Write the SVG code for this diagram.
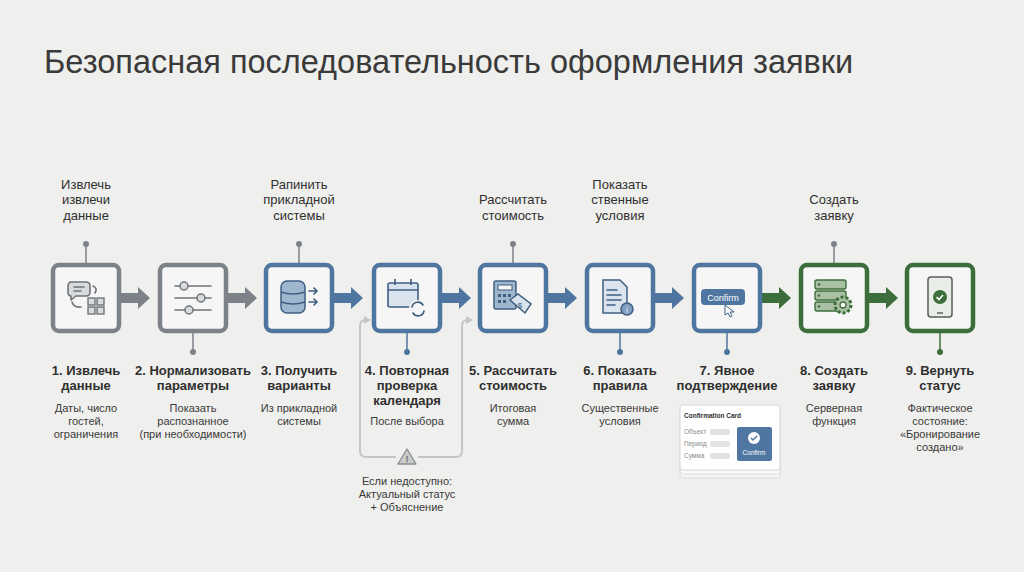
<svg xmlns="http://www.w3.org/2000/svg" width="1024" height="572" viewBox="0 0 1024 572">
<defs>
<style>
text{font-family:"Liberation Sans",Arial,sans-serif;fill:#2f2f2f;text-anchor:middle}
.top{font-size:13px}
.t{font-size:13px;font-weight:bold}
.d{font-size:11px;fill:#3a3a3a}
.lb{font-size:6.5px;fill:#8a8a8a;text-anchor:start}
.box{fill:#f5f6f5;stroke-width:4.5}
.g{stroke:#7d8288}.b{stroke:#4f76a0}.gr{stroke:#3c6e3b}
.stem{stroke-width:1.5;fill:none}
.ic{fill:none;stroke-width:1.6;stroke-linecap:round}
</style>
<marker id="ah" markerWidth="8" markerHeight="8" refX="6" refY="4" orient="auto" markerUnits="userSpaceOnUse"><path d="M0,0L7,4L0,8z" fill="#c4c6c6"/></marker>
</defs>
<rect width="1024" height="572" fill="#efefed"/>
<text x="44" y="73" style="font-size:32.5px;text-anchor:start;fill:#3a3a3a">Безопасная последовательность оформления заявки</text>

<g id="connectors">
<path d="M120,293h18v-6l12,11l-12,11v-6h-18z" fill="#7d8288"/>
<path d="M227,293h18v-6l12,11l-12,11v-6h-18z" fill="#7d8288"/>
<path d="M333,293h18v-6l12,11l-12,11v-6h-18z" fill="#4f76a0"/>
<path d="M441,293h18v-6l12,11l-12,11v-6h-18z" fill="#4f76a0"/>
<path d="M547,293h18v-6l12,11l-12,11v-6h-18z" fill="#4f76a0"/>
<path d="M654,293h18v-6l12,11l-12,11v-6h-18z" fill="#4f76a0"/>
<path d="M761,293h18v-6l12,11l-12,11v-6h-18z" fill="#3c6e3b"/>
<path d="M868,293h18v-6l12,11l-12,11v-6h-18z" fill="#3c6e3b"/>
<path d="M396,457H366q-6,0 -6,-6V326q0,-6 6,-6h4" stroke="#c4c6c6" stroke-width="2" fill="none" marker-end="url(#ah)"/>
<path d="M418,457H456q6,0 6,-6V326q0,-6 6,-6h4" stroke="#c4c6c6" stroke-width="2" fill="none" marker-end="url(#ah)"/>
<path d="M407,449l9,15h-18z" fill="#c9cbcb" stroke="#8a8d90" stroke-width="1.3" stroke-linejoin="round"/>
<text x="407" y="462" style="font-size:9px;font-weight:bold;fill:#6a6d70">!</text>
<g class="stem">
<path d="M86,244v21M299,244v21M513,244v21M834,244v21" class="stem" stroke="#7d8288"/>
<path d="M193,331v21" class="stem" stroke="#7d8288"/>
<path d="M407,331v21M620,331v21M727,331v21" class="stem" stroke="#4f76a0"/>
<path d="M940,331v21" class="stem" stroke="#3c6e3b"/>
</g>
<g fill="#7d8288"><circle cx="86" cy="244" r="3"/><circle cx="193" cy="352" r="3"/><circle cx="299" cy="244" r="3"/><circle cx="513" cy="244" r="3"/><circle cx="834" cy="244" r="3"/></g>
<g fill="#4f76a0"><circle cx="407" cy="352" r="3"/><circle cx="620" cy="352" r="3"/><circle cx="727" cy="352" r="3"/></g>
<circle cx="940" cy="352" r="3" fill="#3c6e3b"/>
</g>

<g id="n1">
<text class="top" x="86" y="189">Извлечь</text><text class="top" x="86" y="204">извлечи</text><text class="top" x="86" y="220">данные</text>
<rect class="box g" x="53" y="265" width="66" height="66" rx="6"/>
<g class="ic" stroke="#6f7479"><path d="M70,282h16q4,0 4,4v6q0,4 -4,4h-10l-5,4v-4q-3,0 -3,-4v-6q0,-4 4,-4z" fill="#d8dadb" stroke-linejoin="round"/><path d="M74,287h10M74,291h7M93,286q5,2 2,7M72,302q2,6 9,5"/></g>
<g fill="#d8dadb" stroke="#6f7479" stroke-width="1.4"><rect x="88" y="298" width="7" height="7"/><rect x="97" y="298" width="7" height="7"/><rect x="88" y="307" width="7" height="7"/><rect x="97" y="307" width="7" height="7"/></g>
<text class="t" x="86" y="375">1. Извлечь</text><text class="t" x="86" y="390">данные</text>
<text class="d" x="86" y="412">Даты, число</text><text class="d" x="86" y="425">гостей,</text><text class="d" x="86" y="438">ограничения</text>
</g>

<g id="n2">
<rect class="box g" x="160" y="265" width="66" height="66" rx="6"/>
<g class="ic" stroke="#6f7479"><path d="M175,286h36M175,298h36M175,310h36"/></g>
<g fill="#d8dadb" stroke="#6f7479" stroke-width="1.5"><circle cx="184" cy="286" r="4"/><circle cx="201" cy="298" r="4"/><circle cx="189" cy="310" r="4"/></g>
<text class="t" x="193" y="375">2. Нормализовать</text><text class="t" x="193" y="390">параметры</text>
<text class="d" x="193" y="412">Показать</text><text class="d" x="193" y="425">распознанное</text><text class="d" x="193" y="438">(при необходимости)</text>
</g>

<g id="n3">
<text class="top" x="299" y="189">Рапинить</text><text class="top" x="299" y="204">прикладной</text><text class="top" x="299" y="220">системы</text>
<rect class="box b" x="266" y="265" width="66" height="66" rx="6"/>
<g stroke="#3f5f82" stroke-width="1.5" fill="#9fb6cf"><rect x="281" y="281" width="24" height="32" rx="6"/><path d="M281,292q12,4 24,0M281,302q12,4 24,0" fill="none"/></g>
<g class="ic" stroke="#3f5f82"><path d="M309,291h8M314,288l3,3l-3,3M309,302h8M314,299l3,3l-3,3"/></g>
<text class="t" x="299" y="375">3. Получить</text><text class="t" x="299" y="390">варианты</text>
<text class="d" x="299" y="412">Из прикладной</text><text class="d" x="299" y="425">системы</text>
</g>

<g id="n4">
<rect class="box b" x="374" y="265" width="66" height="66" rx="6"/>
<g stroke="#3f5f82" stroke-width="1.6" fill="#dbe4ee"><rect x="388" y="283" width="30" height="24" rx="2"/><path d="M388,290h30M395,279v6M411,279v6" fill="none"/></g>
<circle cx="418" cy="309" r="9" fill="#f5f6f5"/>
<g class="ic" stroke="#3f5f82"><path d="M412,307a6,6 0 0 1 11,-2M424,311a6,6 0 0 1 -11,2"/></g>
<text class="t" x="407" y="375">4. Повторная</text><text class="t" x="407" y="390">проверка</text><text class="t" x="407" y="405">календаря</text>
<text class="d" x="407" y="425">После выбора</text>
<text class="d" x="407" y="485">Если недоступно:</text><text class="d" x="407" y="498">Актуальный статус</text><text class="d" x="407" y="511">+ Объяснение</text>
</g>

<g id="n5">
<text class="top" x="513" y="204">Рассчитать</text><text class="top" x="513" y="220">стоимость</text>
<rect class="box b" x="480" y="265" width="66" height="66" rx="6"/>
<rect x="494" y="281" width="22" height="28" rx="2" fill="#9fb6cf" stroke="#3f5f82" stroke-width="1.5"/>
<rect x="498" y="285" width="14" height="5" fill="#f5f6f5" stroke="#3f5f82"/>
<g fill="#3f5f82"><rect x="498" y="294" width="3" height="3"/><rect x="503" y="294" width="3" height="3"/><rect x="508" y="294" width="3" height="3"/><rect x="498" y="300" width="3" height="3"/><rect x="503" y="300" width="3" height="3"/></g>
<path d="M510,300l8,-6l13,10l-6,9z" fill="#dbe4ee" stroke="#3f5f82" stroke-width="1.5"/>
<text x="520" y="308" style="font-size:8px;fill:#3f5f82">$</text>
<text class="t" x="513" y="375">5. Рассчитать</text><text class="t" x="513" y="390">стоимость</text>
<text class="d" x="513" y="412">Итоговая</text><text class="d" x="513" y="425">сумма</text>
</g>

<g id="n6">
<text class="top" x="620" y="189">Показать</text><text class="top" x="620" y="204">ственные</text><text class="top" x="620" y="220">условия</text>
<rect class="box b" x="587" y="265" width="66" height="66" rx="6"/>
<path d="M603,280h17l7,7v26h-24z" fill="#dbe4ee" stroke="#3f5f82" stroke-width="1.5"/>
<g class="ic" stroke="#3f5f82"><path d="M607,290h10M607,295h14M607,300h14M607,305h8"/></g>
<circle cx="627" cy="309" r="6" fill="#7f9dbf" stroke="#3f5f82" stroke-width="1.5"/>
<text x="627" y="313" style="font-size:9px;fill:#f5f6f5">i</text>
<text class="t" x="620" y="375">6. Показать</text><text class="t" x="620" y="390">правила</text>
<text class="d" x="620" y="412">Существенные</text><text class="d" x="620" y="425">условия</text>
</g>

<g id="n7">
<rect class="box b" x="694" y="265" width="66" height="66" rx="6"/>
<rect x="701" y="289" width="44" height="16" rx="4" fill="#4f76a0"/>
<text x="723" y="301" style="font-size:9px;fill:#fff">Confirm</text>
<path d="M725,305v10l3,-2l2,4l2,-1l-2,-4h4z" fill="#fff" stroke="#3f5f82" stroke-width="1"/>
<text class="t" x="727" y="375">7. Явное</text><text class="t" x="727" y="390">подтверждение</text>
<rect x="680" y="413" width="100" height="65" rx="3" fill="#f6f6f6" stroke="#dcdcdc"/>
<rect x="680" y="409" width="100" height="65" rx="3" fill="#f9f9f9" stroke="#dcdcdc"/>
<rect x="680" y="405" width="100" height="65" rx="3" fill="#fff" stroke="#d6d6d6"/>
<text x="684" y="418" style="font-size:6.5px;font-weight:bold;text-anchor:start">Confirmation Card</text>
<text class="lb" x="684" y="434">Объект</text><text class="lb" x="684" y="446">Период</text><text class="lb" x="684" y="458">Сумма</text>
<g fill="#e3e3e3"><rect x="710" y="429" width="20" height="6" rx="2"/><rect x="710" y="441" width="20" height="6" rx="2"/><rect x="710" y="453" width="20" height="6" rx="2"/></g>
<rect x="737" y="427" width="35" height="34" rx="2" fill="#4f76a0"/>
<circle cx="754" cy="438" r="6" fill="#fff"/><path d="M751,438l2,2l4,-4" stroke="#4f76a0" stroke-width="1.5" fill="none"/>
<text x="754" y="455" style="font-size:6.5px;fill:#fff">Confirm</text>
</g>

<g id="n8">
<text class="top" x="834" y="204">Создать</text><text class="top" x="834" y="220">заявку</text>
<rect class="box gr" x="801" y="265" width="66" height="66" rx="6"/>
<g fill="#a9c0a4" stroke="#3c6e3b" stroke-width="1.4"><rect x="815" y="280" width="31" height="9" rx="2"/><rect x="815" y="291" width="31" height="9" rx="2"/><rect x="815" y="302" width="31" height="9" rx="2"/></g>
<g fill="#3c6e3b"><circle cx="819" cy="284.5" r="1.3"/><circle cx="819" cy="295.5" r="1.3"/><circle cx="819" cy="306.5" r="1.3"/></g>
<circle cx="843" cy="305" r="8" fill="#a9c0a4" stroke="#3c6e3b" stroke-width="3" stroke-dasharray="3 2"/>
<circle cx="843" cy="305" r="3" fill="#f5f6f5" stroke="#3c6e3b" stroke-width="1.3"/>
<text class="t" x="834" y="375">8. Создать</text><text class="t" x="834" y="390">заявку</text>
<text class="d" x="834" y="412">Серверная</text><text class="d" x="834" y="425">функция</text>
</g>

<g id="n9">
<rect class="box gr" x="907" y="265" width="66" height="66" rx="6"/>
<rect x="928" y="277" width="24" height="40" rx="3" fill="#e8ede7" stroke="#5a5f5a" stroke-width="1.5"/>
<path d="M937,313h6" stroke="#5a5f5a" stroke-width="1.5"/>
<circle cx="940" cy="297" r="7" fill="#3c6e3b"/><path d="M936.5,297l2.5,2.5l4,-4.5" stroke="#fff" stroke-width="1.6" fill="none"/>
<text class="t" x="940" y="375">9. Вернуть</text><text class="t" x="940" y="390">статус</text>
<text class="d" x="940" y="412">Фактическое</text><text class="d" x="940" y="425">состояние:</text><text class="d" x="940" y="438">«Бронирование</text><text class="d" x="940" y="451">создано»</text>
</g>
</svg>
